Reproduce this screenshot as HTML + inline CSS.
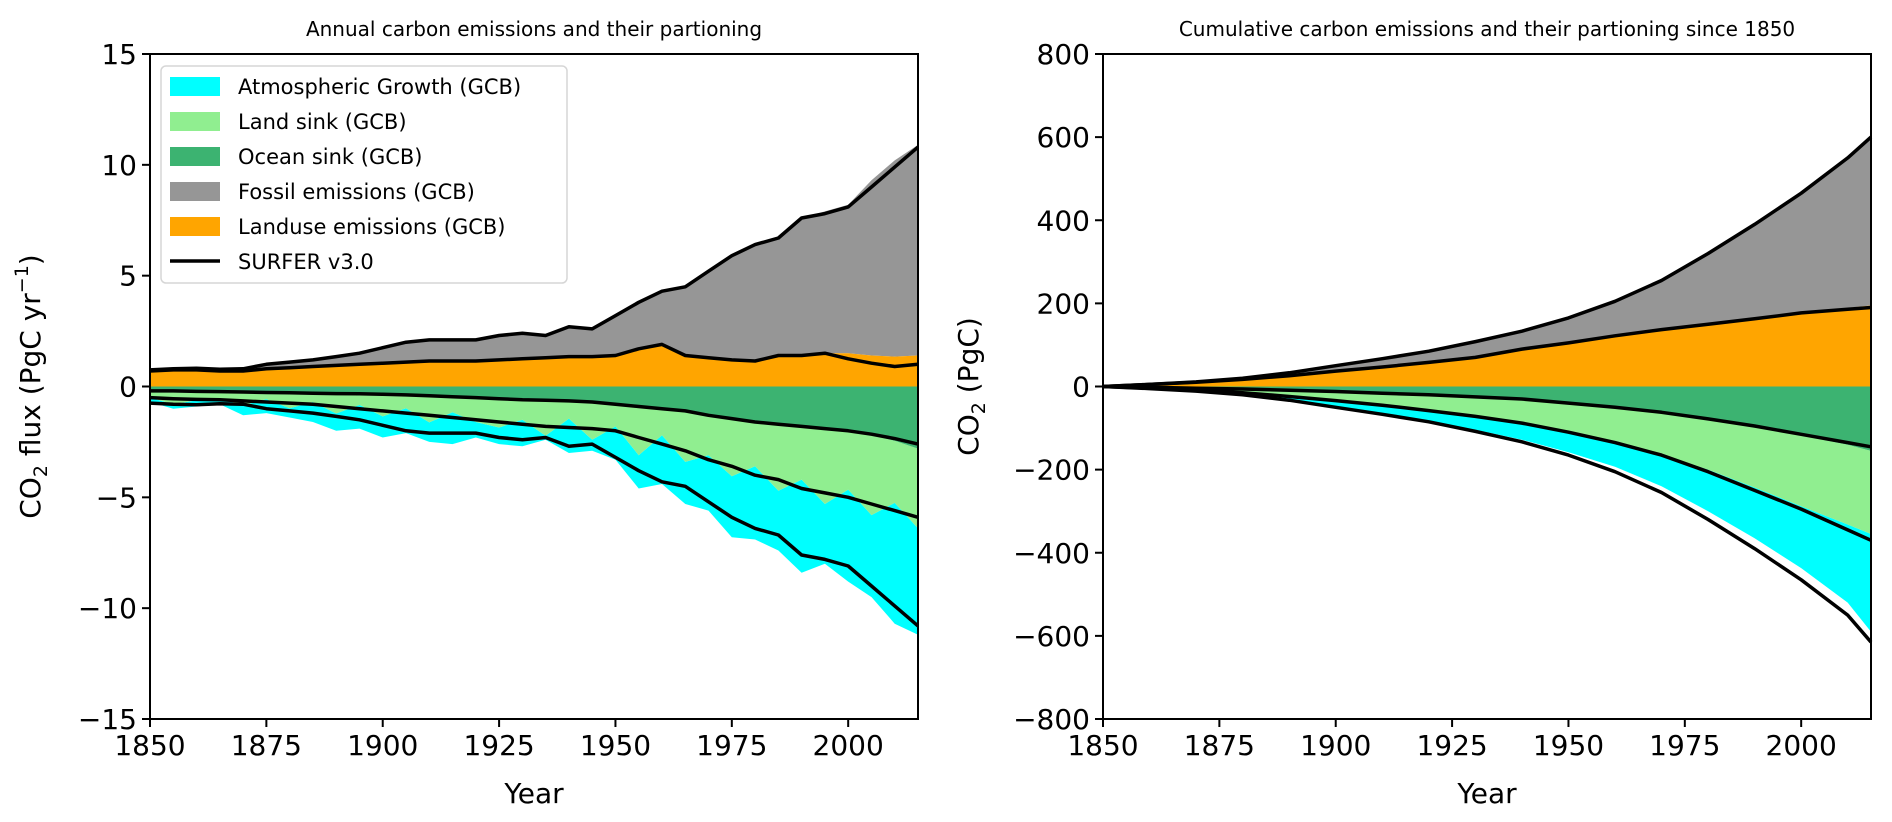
<!DOCTYPE html>
<html><head><meta charset="utf-8"><style>
body{margin:0;background:#fff}
svg{display:block;font-family:"DejaVu Sans","Liberation Sans",sans-serif}
</style></head><body>
<svg id="fig" width="1892" height="822" viewBox="0 0 1892 822" xmlns="http://www.w3.org/2000/svg">
<g id="left"></g>
<g id="right"></g>
</svg>
<script>
// ---- Annual data (PgC/yr), 5-year steps ----
const years = [1850,1855,1860,1865,1870,1875,1880,1885,1890,1895,1900,1905,1910,1915,1920,1925,1930,1935,1940,1945,1950,1955,1960,1965,1970,1975,1980,1985,1990,1995,2000,2005,2010,2015];
const gcbLanduse = [.7,.75,.75,.7,.7,.8,.85,.9,.95,1.0,1.05,1.1,1.15,1.15,1.15,1.2,1.25,1.3,1.35,1.35,1.4,1.7,1.9,1.4,1.3,1.2,1.15,1.4,1.4,1.5,1.5,1.4,1.35,1.4];
const gcbFossil = [.05,.05,.07,.08,.1,.2,.25,.3,.4,.5,.7,.9,.95,.95,.95,1.1,1.15,1.0,1.35,1.25,1.8,2.1,2.4,3.1,3.9,4.7,5.25,5.3,6.2,6.4,6.7,7.9,8.85,9.5];
const gcbOcean = [.2,.2,.22,.23,.25,.27,.28,.3,.32,.33,.35,.38,.42,.46,.5,.55,.6,.62,.65,.7,.8,.9,1.0,1.1,1.3,1.45,1.6,1.7,1.8,1.9,2.05,2.2,2.45,2.8];
const gcbLand = [.3,.6,.4,.3,.6,.3,.7,.4,.9,.5,1.0,.6,1.2,.7,1.1,1.3,.9,1.6,.8,1.7,1.0,2.2,1.2,2.3,1.8,2.6,2.0,3.0,2.4,3.4,2.6,3.6,2.8,3.6];
const gcbAtmos = [.2,.2,.28,.27,.45,.63,.42,.9,.78,1.07,.95,1.12,.88,1.44,.7,.75,1.2,.18,1.55,.5,1.5,1.5,2.2,1.9,2.5,2.75,3.3,2.7,4.2,2.7,4.15,3.7,5.45,4.8];
const surLanduse = [.7,.75,.75,.7,.7,.8,.85,.9,.95,1.0,1.05,1.1,1.15,1.15,1.15,1.2,1.25,1.3,1.35,1.35,1.4,1.7,1.9,1.4,1.3,1.2,1.15,1.4,1.4,1.5,1.25,1.05,.9,1.0];
const surFossil = [.05,.05,.07,.08,.1,.2,.25,.3,.4,.5,.7,.9,.95,.95,.95,1.1,1.15,1.0,1.35,1.25,1.8,2.1,2.4,3.1,3.9,4.7,5.25,5.3,6.2,6.3,6.85,7.95,9.0,9.8];
const surOcean = [.2,.2,.22,.23,.25,.27,.28,.3,.32,.33,.35,.38,.42,.46,.5,.55,.6,.62,.65,.7,.8,.9,1.0,1.1,1.3,1.45,1.6,1.7,1.8,1.9,2.0,2.15,2.35,2.6];
const surLand = [.3,.35,.36,.37,.4,.43,.47,.5,.58,.67,.75,.82,.88,.94,1.0,1.05,1.1,1.18,1.2,1.2,1.2,1.4,1.6,1.8,2.0,2.15,2.4,2.5,2.8,2.9,3.0,3.15,3.25,3.3];
const surAtmos = [.25,.25,.24,.18,.15,.3,.35,.4,.45,.5,.65,.8,.8,.7,.6,.7,.7,.5,.85,.7,1.2,1.5,1.7,1.6,1.9,2.3,2.4,2.5,3.0,3.0,3.1,3.7,4.3,4.9];
// ---- Cumulative data (PgC) ----
const cumYears = [1850,1860,1870,1880,1890,1900,1910,1920,1930,1940,1950,1960,1970,1980,1990,2000,2010,2015];
const gcbCumLanduse = [0,5,10,17,26,37,47,58,70,90,105,122,137,150,163,178,189,195];
const gcbCumTotal = [0,5,11,20,33,50,67,85,108,133,165,205,255,320,390,465,550,600];
const gcbCumOcean = [0,2,4,6,9,12,16,20,25,30,40,50,62,79,97,118,140,155];
const gcbCumOcLand = [0,4,9,15,24,34,45,58,72,88,110,134,163,200,243,288,332,355];
const gcbCumAtmBottom = [0,5,11,20,33,50,66,83,104,128,158,193,240,300,365,437,520,590];
const surCumLanduse = [0,5,10,17,26,37,47,58,70,90,105,122,137,150,163,177,186,190];
const surCumTotal = [0,5,11,20,33,50,67,85,108,133,165,205,255,320,390,465,550,600];
const surCumOcean = [0,2,4,6,9,12,16,20,25,30,40,50,62,78,95,115,135,145];
const surCumOcLand = [0,4,9,15,24,34,45,58,72,88,110,135,165,205,250,295,345,370];
const surCumAtmBottom = [0,5,11,20,33,50,67,85,108,133,165,205,255,320,390,465,550,615];
const xTicks = [1850,1875,1900,1925,1950,1975,2000];
const yTicksL = [15,10,5,0,-5,-10,-15];
const yTicksR = [800,600,400,200,0,-200,-400,-600,-800];

const NS='http://www.w3.org/2000/svg';
function mk(tag,attrs,parent){const e=document.createElementNS(NS,tag);for(const k in attrs)e.setAttribute(k,attrs[k]);parent.appendChild(e);return e;}
const C={cyan:'#00ffff',land:'#90ee90',ocean:'#3cb371',fossil:'#969696',luc:'#ffa500'};

function panel(g,x0,x1,ymin,ymax,yTicks,fmt){
  const top=54,bot=719;
  const sx=v=>x0+(v-1850)/(2015-1850)*(x1-x0);
  const sy=v=>bot-(v-ymin)/(ymax-ymin)*(bot-top);
  return {sx,sy,top,bot,x0,x1,yTicks,fmt};
}
function band(g,P,xs,lo,hi,fill,name){
  let d='M';
  xs.forEach((x,i)=>{d+=(i?'L':'')+P.sx(x).toFixed(1)+','+P.sy(hi[i]).toFixed(1);});
  for(let i=xs.length-1;i>=0;i--)d+='L'+P.sx(xs[i]).toFixed(1)+','+P.sy(lo[i]).toFixed(1);
  const p=mk('path',{d:d+'Z',fill:fill,stroke:'none'},g);
  
  
}
function line(g,P,xs,ys,name){
  const d=xs.map((x,i)=>(i?'L':'M')+P.sx(x).toFixed(1)+','+P.sy(ys[i]).toFixed(1)).join('');
  const p=mk('path',{d:d,fill:'none',stroke:'#000','stroke-width':3.5,'stroke-linejoin':'round'},g);
  
  
}
function axes(g,P,title,ylabelHtml,ylx){
  const fr=mk('rect',{x:P.x0,y:P.top,width:P.x1-P.x0,height:P.bot-P.top,fill:'none',stroke:'#000','stroke-width':2},g);
  
  
  xTicks.forEach(t=>{
    const x=P.sx(t);
    mk('line',{x1:x,x2:x,y1:P.bot,y2:P.bot+8,stroke:'#000','stroke-width':2},g);
    const tx=mk('text',{x:x,y:P.bot+36,'font-size':28,'text-anchor':'middle'},g);
    tx.textContent=t;
    
    
  });
  P.yTicks.forEach(t=>{
    const y=P.sy(t);
    mk('line',{x1:P.x0-8,x2:P.x0,y1:y,y2:y,stroke:'#000','stroke-width':2},g);
    const tx=mk('text',{x:P.x0-13,y:y+10,'font-size':28,'text-anchor':'end'},g);
    tx.textContent=(t<0?'\u2212'+(-t):t);
    
    
  });
  const tt=mk('text',{x:(P.x0+P.x1)/2,y:36,'font-size':20,'text-anchor':'middle'},g);
  tt.textContent=title;
  
  
  const xl=mk('text',{x:(P.x0+P.x1)/2,y:803,'font-size':28,'text-anchor':'middle'},g);
  xl.textContent='Year';
  
  
  const yl=mk('text',{x:0,y:0,'font-size':28,'text-anchor':'middle',transform:`translate(${ylx},${(P.top+P.bot)/2}) rotate(-90)`},g);
  yl.innerHTML=ylabelHtml;
  
  
}
function cum(a,b){return a.map((v,i)=>v+b[i]);}
function neg(a){return a.map(v=>-v);}

// ---- Left panel ----
const gL=document.getElementById('left');
const PL=panel(gL,150,918,-15,15,yTicksL);
const zero=years.map(()=>0);
const gT=cum(gcbLanduse,gcbFossil), gO=gcbOcean, gOL=cum(gcbOcean,gcbLand), gB=cum(gOL,gcbAtmos);
band(gL,PL,years,neg(gOL),neg(gB),C.cyan,'atmospheric-growth-area');
band(gL,PL,years,neg(gO),neg(gOL),C.land,'land-sink-area');
band(gL,PL,years,zero,neg(gO),C.ocean,'ocean-sink-area');
band(gL,PL,years,gcbLanduse,gT,C.fossil,'fossil-emissions-area');
band(gL,PL,years,zero,gcbLanduse,C.luc,'landuse-emissions-area');
const sT=cum(surLanduse,surFossil), sOL=cum(surOcean,surLand), sB=cum(sOL,surAtmos);
line(gL,PL,years,surLanduse,'surfer-landuse-line');
line(gL,PL,years,sT,'surfer-total-emissions-line');
line(gL,PL,years,neg(surOcean),'surfer-ocean-line');
line(gL,PL,years,neg(sOL),'surfer-land-line');
line(gL,PL,years,neg(sB),'surfer-atmos-line');
axes(gL,PL,'Annual carbon emissions and their partioning','CO<tspan font-size="19" dy="7">2</tspan><tspan dy="-7"> flux (PgC yr</tspan><tspan font-size="19" dy="-12">\u22121</tspan><tspan dy="12">)</tspan>',40);

// legend
const lg=mk('g',{},gL);


mk('rect',{x:161,y:66,width:406,height:217,rx:5,fill:'#fff','fill-opacity':0.85,stroke:'#d6d6d6','stroke-width':1.5},lg);
const legItems=[['Atmospheric Growth (GCB)',C.cyan],['Land sink (GCB)',C.land],['Ocean sink (GCB)',C.ocean],['Fossil emissions (GCB)',C.fossil],['Landuse emissions (GCB)',C.luc],['SURFER v3.0',null]];
legItems.forEach((it,i)=>{
  const y=86+i*35;
  const e=mk('g',{},lg);
  
  
  if(it[1])mk('rect',{x:170,y:y-9,width:50,height:19,fill:it[1]},e);
  else mk('line',{x1:170,x2:220,y1:y,y2:y,stroke:'#000','stroke-width':3.5},e);
  const t=mk('text',{x:238,y:y+8,'font-size':21},e);
  t.textContent=it[0];
});

// ---- Right panel ----
const gR=document.getElementById('right');
const PR=panel(gR,1103,1871,-800,800,yTicksR);
const z2=cumYears.map(()=>0);
band(gR,PR,cumYears,neg(gcbCumOcLand),neg(gcbCumAtmBottom),C.cyan,'cum-atmospheric-growth-area');
band(gR,PR,cumYears,neg(gcbCumOcean),neg(gcbCumOcLand),C.land,'cum-land-sink-area');
band(gR,PR,cumYears,z2,neg(gcbCumOcean),C.ocean,'cum-ocean-sink-area');
band(gR,PR,cumYears,gcbCumLanduse,gcbCumTotal,C.fossil,'cum-fossil-emissions-area');
band(gR,PR,cumYears,z2,gcbCumLanduse,C.luc,'cum-landuse-emissions-area');
line(gR,PR,cumYears,surCumLanduse,'cum-surfer-landuse-line');
line(gR,PR,cumYears,surCumTotal,'cum-surfer-total-line');
line(gR,PR,cumYears,neg(surCumOcean),'cum-surfer-ocean-line');
line(gR,PR,cumYears,neg(surCumOcLand),'cum-surfer-land-line');
line(gR,PR,cumYears,neg(surCumAtmBottom),'cum-surfer-atmos-line');
axes(gR,PR,'Cumulative carbon emissions and their partioning since 1850','CO<tspan font-size="19" dy="7">2</tspan><tspan dy="-7"> (PgC)</tspan>',978);
</script>
</body></html>
